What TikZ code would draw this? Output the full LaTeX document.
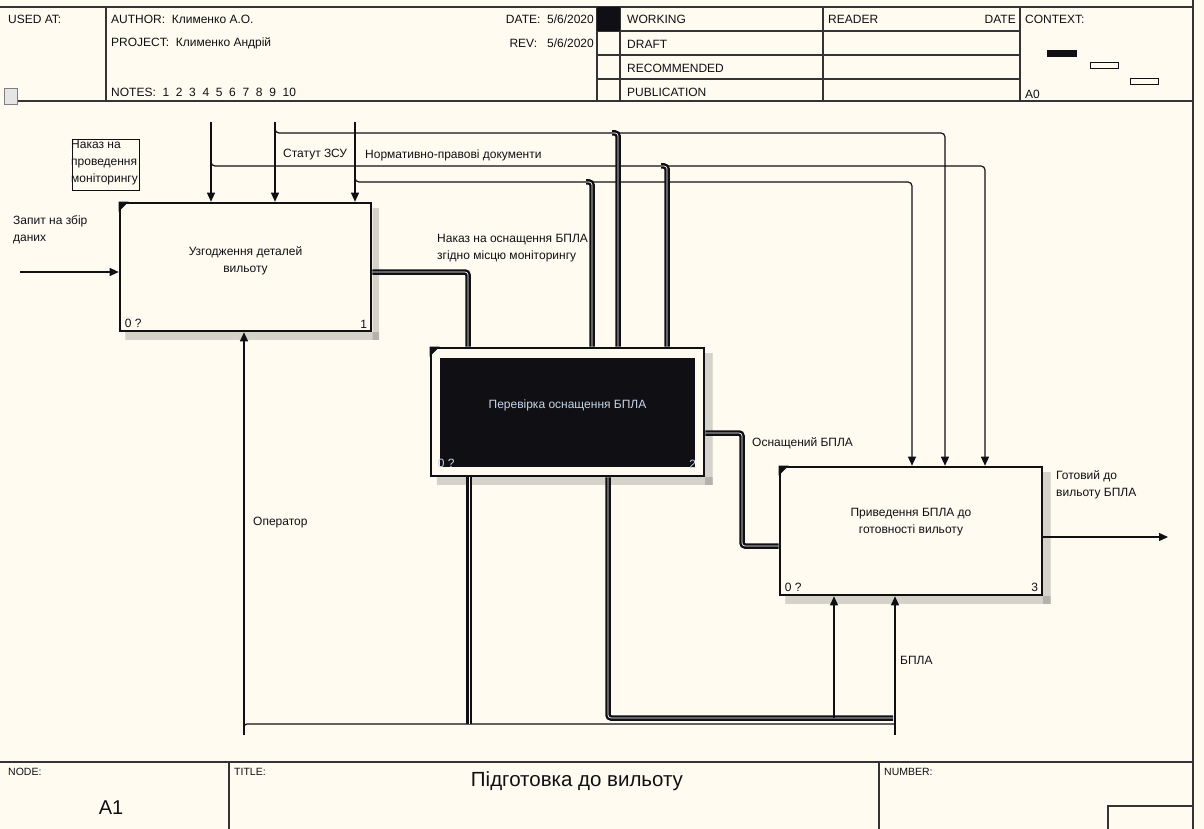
\documentclass[tikz,border=0pt]{standalone}
\usepackage{fontspec}
\setmainfont{Liberation Sans}
\usetikzlibrary{arrows.meta,calc,patterns.meta}
\definecolor{paper}{RGB}{255,251,240}
\definecolor{ink}{RGB}{16,16,20}
\definecolor{onblack}{RGB}{200,212,232}
\newcommand{\boxshade}[1]{% hatched shadow right of and under box (#1)
  \fill[shadefill] ($(#1.north east)+(0,7)$) rectangle ($(#1.south east)+(7,7)$);
  \fill[shadefill] ($(#1.south west)+(7,0)$) rectangle ($(#1.south east)+(7,7)$);
}
\newcommand{\boxmark}[1]{% small corner tick at the top left of box (#1)
  \fill[ink] (#1.north west) -- ++(10,0) -- ++(-10,10) -- cycle;
}

\begin{document}
\begin{tikzpicture}[x=1pt,y=-1pt,
  fnbox/.style={draw=ink, line width=2.6pt, fill=paper, minimum height=128pt, inner sep=0pt},
  lbl/.style={font=\fontsize{12}{17}\selectfont, text=ink, inner sep=1pt, align=left},
  hdr/.style={font=\fontsize{12}{14}\selectfont, text=ink, inner sep=0pt},
  sheetline/.style={draw=ink!85, line width=1.4pt},
  arr/.style={draw=ink, line width=1.2pt, -{Triangle[length=9pt,width=8pt]}},
  ln/.style={draw=ink, line width=1.2pt},
  bold/.style={draw=ink, line width=2.4pt, double=white, double distance=0.7pt},
  shadefill/.style={pattern={Dots[distance=2pt,radius=0.6pt]}, pattern color=ink!75}
]
  \fill[paper] (0,0) rectangle (1204,829);
  \useasboundingbox (0,0) rectangle (1204,829);

  % header frame
  \draw[sheetline] (0,7) -- (1193,7);
  \draw[sheetline] (17,101) -- (1193,101);
  \draw[sheetline] (1193,0) -- (1193,829);
  \foreach \xx in {106,597,620,823,1020} \draw[sheetline] (\xx,7) -- (\xx,101);
  \foreach \yy in {31,55,79} \draw[sheetline] (597,\yy) -- (1020,\yy);
  \fill[ink] (597,7) rectangle (620,31);
  \draw[gray, fill=gray!20] (4,88) rectangle (17,104);
  \node[hdr, anchor=west] (usedat) at (8,19) {USED AT:};
  \node[hdr, anchor=west] (author) at (111,19) {AUTHOR:\ \ Клименко А.О.};
  \node[hdr, anchor=west] (project) at (111,43) {PROJECT:\ \ Клименко Андрій};
  \node[hdr, anchor=west] (notes) at (111,92) {NOTES:\ \ 1\ \ 2\ \ 3\ \ 4\ \ 5\ \ 6\ \ 7\ \ 8\ \ 9\ \ 10};
  \node[hdr, anchor=east] (date) at (594,19) {DATE:\ \ 5/6/2020};
  \node[hdr, anchor=east] (rev) at (594,43) {REV:\ \ \ 5/6/2020};
  \node[hdr, anchor=west] (working) at (627,19) {WORKING};
  \node[hdr, anchor=west] (draft) at (627,44) {DRAFT};
  \node[hdr, anchor=west] (recom) at (627,68) {RECOMMENDED};
  \node[hdr, anchor=west] (public) at (627,92) {PUBLICATION};
  \node[hdr, anchor=west] (reader) at (828,19) {READER};
  \node[hdr, anchor=east] (rdate) at (1016,19) {DATE};
  \node[hdr, anchor=west] (context) at (1025,19) {CONTEXT:};
  \node[hdr, anchor=west] (azero) at (1025,94) {A0};
  \fill[ink] (1047,50) rectangle (1077,57);
  \draw[ink, line width=0.9pt] (1090,62) rectangle (1118,68);
  \draw[ink, line width=0.9pt] (1130,78) rectangle (1158,84);

  % footer frame
  \draw[sheetline] (0,762) -- (1193,762);
  \draw[sheetline] (229,762) -- (229,829);
  \draw[sheetline] (879,762) -- (879,829);
  \draw[sheetline] (1108,829) -- (1108,806) -- (1193,806);
  \node[hdr, anchor=west, font=\fontsize{10.5}{12}\selectfont] (nodehd) at (8,772) {NODE:};
  \node[hdr, anchor=west, font=\fontsize{10.5}{12}\selectfont] (titlehd) at (234,772) {TITLE:};
  \node[hdr, anchor=west, font=\fontsize{10.5}{12}\selectfont] (numhd) at (884,772) {NUMBER:};
  \node[hdr, font=\fontsize{20}{24}\selectfont] (nodeid) at (111,808) {A1};
  \node[hdr, font=\fontsize{20.5}{24}\selectfont] (title) at (577,781) {Підготовка до вильоту};

  % activity boxes
  \node[fnbox, minimum width=251pt] (b1) at (245.5,267) {};
  \node[fnbox, minimum width=273pt] (b2) at (567.5,412) {};
  \node[fnbox, minimum width=262pt] (b3) at (911,531) {};
  \boxshade{b1} \boxshade{b2} \boxshade{b3}
  \node[fnbox, minimum width=251pt] at (b1) {};
  \node[fnbox, minimum width=273pt] at (b2) {};
  \node[fnbox, minimum width=262pt] at (b3) {};
  \fill[ink] ($(b2.north west)+(10,11)$) rectangle ($(b2.south east)+(-10,-10)$);
  \boxmark{b1} \boxmark{b2} \boxmark{b3}
  \node[lbl, align=center] (t1) at ($(b1.center)+(0,-6)$) {Узгодження деталей\\вильоту};
  \node[lbl, align=center, text=onblack] (t2) at ($(b2.center)+(0,-7)$) {Перевірка оснащення БПЛА};
  \node[lbl, align=center] (t3) at ($(b3.center)+(0,-9)$) {Приведення БПЛА до\\готовності вильоту};
  \node[lbl, anchor=south west] (n1a) at ($(b1.south west)+(5,-3)$) {0 ?};
  \node[lbl, anchor=south east] (n1b) at ($(b1.south east)+(-4,-3)$) {1};
  \node[lbl, anchor=south west, text=onblack] (n2a) at ($(b2.south west)+(7,-8)$) {0 ?};
  \node[lbl, anchor=south east, text=onblack] (n2b) at ($(b2.south east)+(-8,-8)$) {2};
  \node[lbl, anchor=south west] (n3a) at ($(b3.south west)+(5,-3)$) {0 ?};
  \node[lbl, anchor=south east] (n3b) at ($(b3.south east)+(-4,-3)$) {3};

  % input
  \coordinate (in1) at (20,272);
  \draw[arr] (in1) -- (in1 -| b1.west);
  \node[lbl, anchor=north west] (l_in1) at (12,214) {Запит на збір\\даних};

  % controls
  \coordinate (c1) at (211,122);
  \coordinate (c2) at (275,122);
  \coordinate (c3) at (355,122);
  \coordinate (d1) at (985,166);
  \coordinate (d2) at (945,133);
  \coordinate (d3) at (912,182);
  \draw[arr] (c1) -- (c1 |- b1.north);
  \draw[arr] (c2) -- (c2 |- b1.north);
  \draw[arr] (c3) -- (c3 |- b1.north);
  \draw[arr, rounded corners=4pt] ($(c1 |- d1)+(0,-6)$) |- (d1) -- (d1 |- b3.north);
  \draw[arr, rounded corners=4pt] ($(c2 |- d2)+(0,-6)$) |- (d2) -- (d2 |- b3.north);
  \draw[arr, rounded corners=4pt] ($(c3 |- d3)+(0,-6)$) |- (d3) -- (d3 |- b3.north);
  \node[draw=ink, line width=0.7pt, minimum width=67pt, minimum height=51pt,
        anchor=north west, inner sep=0pt] (l_c1box) at (72,139) {};
  \node[lbl, anchor=north west, font=\fontsize{12}{17}\selectfont] (l_c1) at (70,139) {Наказ на\\проведення\\моніторингу};
  \node[lbl, anchor=west] (l_c2) at (282,155) {Статут ЗСУ};
  \node[lbl, anchor=west] (l_c3) at (364,155) {Нормативно-правові документи};

  % controls branching down to box 2
  \coordinate (e1) at (592,182);
  \coordinate (e2) at (618,133);
  \coordinate (e3) at (667,166);
  \draw[bold, rounded corners=3pt] ($(e1)+(-6,0)$) -| (e1 |- b2.north);
  \draw[bold, rounded corners=3pt] ($(e2)+(-6,0)$) -| (e2 |- b2.north);
  \draw[bold, rounded corners=3pt] ($(e3)+(-6,0)$) -| (e3 |- b2.north);

  % outputs
  \coordinate (j1) at (468,272);
  \coordinate (j2) at (742,433);
  \coordinate (j3) at (742,546);
  \coordinate (out3) at (1168,537);
  \draw[bold, rounded corners=3pt] (b1.east |- j1) -- (j1) -- (j1 |- b2.north);
  \draw[bold, rounded corners=3pt] (b2.east |- j2) -- (j2) -- (j3) -- (j3 -| b3.west);
  \draw[arr] (b3.east |- out3) -- (out3);
  \node[lbl, anchor=north west] (l_j1) at (436,233) {Наказ на оснащення БПЛА\\згідно місцю моніторингу};
  \node[lbl, anchor=west] (l_j2) at (751,443) {Оснащений БПЛА};
  \node[lbl, anchor=north west] (l_out3) at (1055,469) {Готовий до\\вильоту БПЛА};

  % mechanisms
  \coordinate (m1) at (244,735);
  \coordinate (m2) at (895,735);
  \coordinate (h1) at (244,724);
  \coordinate (h2) at (895,724);
  \coordinate (k1) at (469,724);
  \coordinate (k2) at (608,718);
  \coordinate (k3) at (893,718);
  \coordinate (k4) at (834,718);
  \draw[arr] (m1) -- (m1 |- b1.south);
  \draw[arr] (m2) -- (m2 |- b3.south);
  \draw[ln, rounded corners=3pt] ($(h1)+(0,6)$) |- (h2);
  \draw[bold] (k1) -- (k1 |- b2.south);
  \draw[bold, rounded corners=3pt] (k3) -- (k2) -- (k2 |- b2.south);
  \draw[arr] (k4) -- (k4 |- b3.south);
  \node[lbl, anchor=west] (l_m1) at (252,523) {Оператор};
  \node[lbl, anchor=west] (l_m2) at (899,660) {БПЛА};
\end{tikzpicture}
\end{document}
